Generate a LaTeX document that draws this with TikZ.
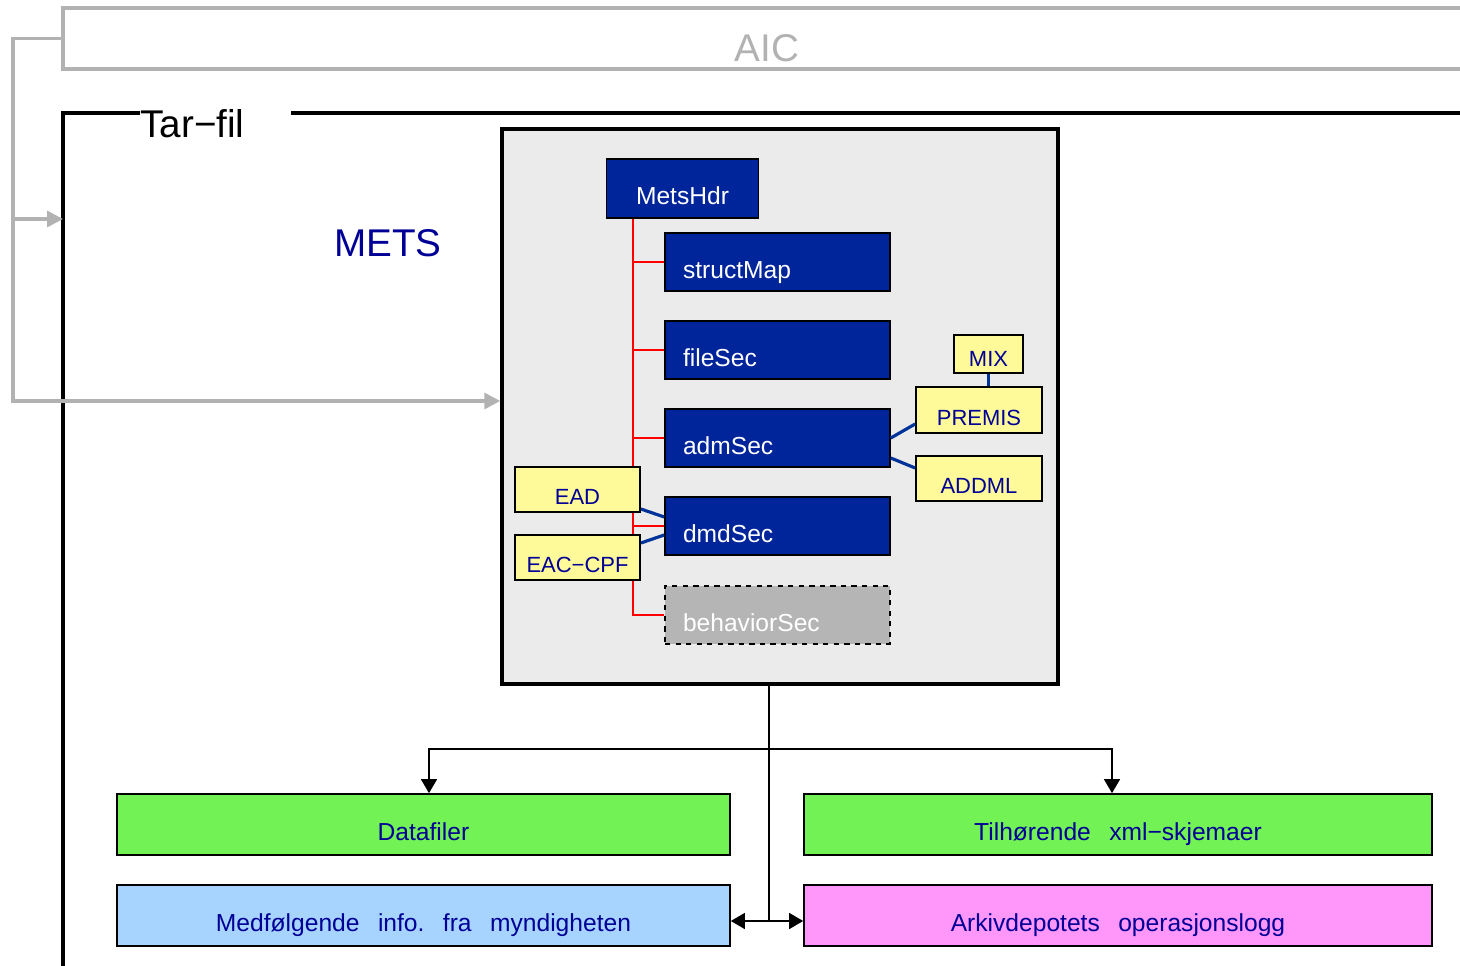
\documentclass[tikz,border=0pt]{standalone}
\usepackage{fontspec}
\setmainfont{Liberation Sans}
\usepackage{tikz}
\usetikzlibrary{shapes,positioning,calc}
\usetikzlibrary{arrows.meta}
\definecolor{metsblue}{RGB}{0,36,153}
\definecolor{inkblue}{RGB}{0,0,150}
\definecolor{linkblue}{RGB}{0,51,153}
\definecolor{boxgray}{RGB}{235,235,235}
\definecolor{framegray}{RGB}{178,178,178}
\definecolor{notegreen}{RGB}{114,242,84}
\definecolor{noteblue}{RGB}{166,212,255}
\definecolor{notepink}{RGB}{255,150,250}
\newcommand{\mellom}{\hspace{0.75em}}
\tikzstyle{stor} = [inner sep=0pt, font=\fontsize{22}{24}\selectfont]
\tikzstyle{metsramme} = [rectangle, minimum width=11.12cm, minimum height=11.1cm, fill=boxgray, draw=black, line width=2pt]
\tikzstyle{seksjon} = [rectangle, minimum height=1.16cm, text width=3.78cm, inner xsep=0.36cm, inner ysep=0pt, align=left, fill=metsblue, draw=black, line width=0.9pt, text=white, font=\fontsize{14}{16}\selectfont, text height=18.6pt, text depth=0pt]
\tikzstyle{skjema} = [rectangle, minimum width=2.52cm, minimum height=0.9cm, inner sep=0pt, fill=yellow!40, draw=black, line width=1pt, text=inkblue, font=\fontsize{12.5}{14}\selectfont, text height=17.5pt, text depth=0pt]
\tikzstyle{innhold} = [rectangle, minimum height=1.22cm, inner sep=0pt, draw=black, line width=0.9pt, text=inkblue, font=\fontsize{14}{16}\selectfont, text height=18.6pt, text depth=0pt]
\tikzstyle{grapil} = [line width=2pt, draw=framegray, -{Triangle[length=9pt,width=9pt]}]
\tikzstyle{tarlinje} = [line width=2pt, draw=black]
\tikzstyle{tre} = [line width=0.8pt, draw=red]
\tikzstyle{lenke} = [line width=1.8pt, draw=linkblue]
\tikzstyle{pil} = [line width=1.2pt, draw=black, -{Triangle[length=8pt,width=9pt]}]
\begin{document}
\begin{tikzpicture}
	\useasboundingbox (0,0) rectangle (29.2,-19.32);
	\node (aic) at (15.34,-0.77) [rectangle, minimum width=28.16cm, minimum height=1.22cm, inner sep=0pt, draw=framegray, line width=2pt, text=framegray, font=\fontsize{22}{24}\selectfont, text height=26.6pt, text depth=0pt] {AIC};
	\node (tarfil) at (2.8,-2.76) [stor, anchor=base west] {Tar−fil};
	\draw[tarlinje] (tarfil.west |- 0,-2.26) -- (1.26,-2.26) -- (1.26,-19.6);
	\draw[tarlinje] (5.82,-2.26) -- (29.6,-2.26);
	\node (metstittel) at (7.76,-5.14) [stor, anchor=base, text=inkblue] {METS};
	\node (mets) at (15.6,-8.13) [metsramme] {};
	\node (metshdr) at (13.65,-3.77) [seksjon, text width=3.04cm, inner xsep=0pt, align=center, minimum height=1.18cm] {MetsHdr};
	\node (structmap) at (15.55,-5.24) [seksjon] {structMap};
	\node (filesec) at (15.55,-7.0) [seksjon] {fileSec};
	\node (admsec) at (15.55,-8.76) [seksjon] {admSec};
	\node (dmdsec) at (15.55,-10.52) [seksjon] {dmdSec};
	\node (behaviorsec) at (15.55,-12.30) [seksjon, fill=black!29, dashed] {behaviorSec};
	\coordinate (ryggrad) at (12.66,0);
	\draw[tre] (metshdr.south -| ryggrad) -- (behaviorsec.west -| ryggrad) -- (behaviorsec.west);
	\foreach \s in {structmap,filesec,admsec,dmdsec}
		\draw[tre] (\s.west -| ryggrad) -- (\s.west);
	\node (ead) at (11.55,-9.79) [skjema, minimum width=2.5cm] {EAD};
	\node (eaccpf) at (11.55,-11.15) [skjema, minimum width=2.5cm] {EAC−CPF};
	\node (mix) at (19.77,-7.08) [skjema, minimum width=1.38cm, minimum height=0.76cm, text height=14.6pt] {MIX};
	\node (premis) at (19.58,-8.2) [skjema, minimum height=0.92cm] {PREMIS};
	\node (addml) at (19.58,-9.57) [skjema] {ADDML};
	\draw[lenke] (mix.south) -- (mix.south |- premis.north);
	\draw[lenke] (admsec.east) -- ($(premis.west)+(0,-0.28)$);
	\draw[lenke] ($(admsec.east)+(0,-0.4)$) -- ($(addml.west)+(0,0.21)$);
	\draw[lenke] ($(ead.east)+(0,-0.39)$) -- ($(dmdsec.west)+(0,0.18)$);
	\draw[lenke] ($(eaccpf.east)+(0,0.29)$) -- ($(dmdsec.west)+(0,-0.18)$);
	\coordinate (aicsving) at (0.26,-0.77);
	\coordinate (tarinn) at (1.26,-4.38);
	\draw[grapil] (aic.west) -- (aicsving) |- ($(mets.west)+(0,0.11)$);
	\draw[grapil] (aicsving |- tarinn) -- (tarinn);
	\node (datafiler) at (8.47,-16.49) [innhold, minimum width=12.26cm, fill=notegreen] {Datafiler};
	\node (skjemaer) at (22.36,-16.49) [innhold, minimum width=12.56cm, fill=notegreen] {Tilhørende\mellom xml−skjemaer};
	\node (myndighet) at (8.47,-18.31) [innhold, minimum width=12.26cm, fill=noteblue] {Medfølgende\mellom info.\mellom fra\mellom myndigheten};
	\node (logg) at (22.36,-18.31) [innhold, minimum width=12.56cm, fill=notepink] {Arkivdepotets\mellom operasjonslogg};
	\coordinate (delt) at (15.38,-14.98);
	\coordinate (nav) at (15.38,-18.42);
	\draw[line width=1.2pt] (mets.south -| nav) -- (nav);
	\draw[pil] (delt) -| ($(datafiler.north)+(0.11,0)$);
	\draw[pil] (delt) -| ($(skjemaer.north)+(-0.12,0)$);
	\draw[pil] (nav) -- (nav -| myndighet.east);
	\draw[pil] (nav) -- (nav -| logg.west);
\end{tikzpicture}
\end{document}
